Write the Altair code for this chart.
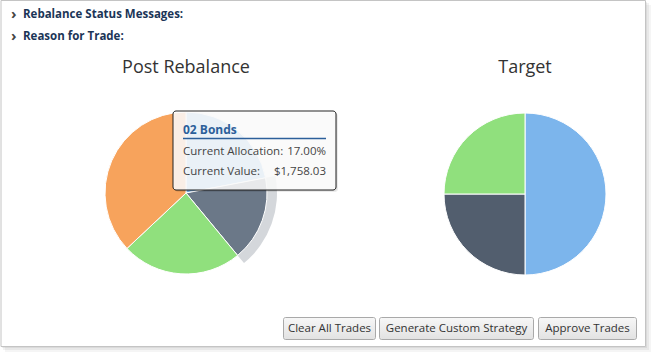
import altair as alt
import pandas as pd

# ---- data ----
categories = ["01 Equities", "02 Bonds", "03 Alternatives", "04 Cash"]
post_values = [22.0, 17.0, 24.0, 37.0]
target_categories = ["01 Equities", "02 Bonds", "03 Alternatives"]
target_values = [50.0, 25.0, 25.0]
hovered = "02 Bonds"
tooltip_allocation = "17.00%"
tooltip_value = "$1,758.03"
header_lines = ["Rebalance Status Messages:", "Reason for Trade:"]
button_labels = ["Clear All Trades", "Generate Custom Strategy", "Approve Trades"]
titles = ["Post Rebalance", "Target"]

post_df = pd.DataFrame({"name": categories, "value": post_values, "idx": range(len(categories))})
target_df = pd.DataFrame({"name": target_categories, "value": target_values, "idx": range(len(target_categories))})

FONT = "Open Sans"
one = pd.DataFrame({"a": [0]})


def rect(x, x2, y, y2, **kw):
    return alt.Chart(one).mark_rect(**kw).encode(
        x=alt.value(x), x2=alt.value(x2), y=alt.value(y), y2=alt.value(y2))


def text(t, x, y, **kw):
    base = dict(font=FONT, fontSize=12, color="#333333", baseline="middle", align="left")
    base.update(kw)
    return alt.Chart(pd.DataFrame({"t": [t]})).mark_text(**base).encode(
        x=alt.value(x), y=alt.value(y), text="t:N")


def hline(x, x2, y, color, w):
    return alt.Chart(one).mark_rule(color=color, strokeWidth=w).encode(
        x=alt.value(x), x2=alt.value(x2), y=alt.value(y))


layers = []
# panel shadow + panel
layers.append(rect(5, 651, 5, 352, fill="#000000", opacity=0.04))
layers.append(rect(3, 649, 3, 350, fill="#000000", opacity=0.05))
layers.append(rect(2, 647, 2, 348, fill="#000000", opacity=0.06))
layers.append(rect(1, 645.5, 0.5, 346.5, fill="#ffffff", stroke="#c4c4c4", strokeWidth=1))

# header lines
for i, t in enumerate(header_lines):
    yy = 15 + 22 * i
    layers.append(text("›", 11, yy - 1, fontSize=15, fontWeight="bold", color="#444444"))
    layers.append(text(t, 23, yy, fontWeight="bold", color="#1b3557", fontSize=11.5))

# titles
layers.append(text(titles[0], 186, 68, fontSize=18, align="center", color="#333333"))
layers.append(text(titles[1], 525, 68, fontSize=18, align="center", color="#333333"))

# post rebalance pie
post_colors = ["#7cb5ec", "#6b7888", "#90e07d", "#f7a35c"]
post_pie = alt.Chart(post_df).mark_arc(radius=81, stroke="#ffffff", strokeWidth=1).encode(
    theta=alt.Theta("value:Q", stack=True),
    order=alt.Order("idx:O"),
    color=alt.Color("name:N", scale=alt.Scale(domain=categories, range=post_colors), legend=None),
    x=alt.value(186), y=alt.value(193),
)
halo = alt.Chart(post_df).mark_arc(radius=91, radius2=81, strokeWidth=0, fill="#525e6e").encode(
    theta=alt.Theta("value:Q", stack=True),
    order=alt.Order("idx:O"),
    opacity=alt.condition(alt.datum.name == hovered, alt.value(0.25), alt.value(0.0)),
    x=alt.value(186), y=alt.value(193),
)
layers.append(halo)
layers.append(post_pie)

# target pie
target_colors = ["#7cb5ec", "#525e6e", "#90e07d"]
target_pie = alt.Chart(target_df).mark_arc(radius=81, stroke="#ffffff", strokeWidth=1).encode(
    theta=alt.Theta("value:Q", stack=True),
    order=alt.Order("idx:O"),
    fill=alt.Fill("name:N", scale=alt.Scale(domain=target_categories, range=target_colors), legend=None),
    x=alt.value(525), y=alt.value(194),
)
layers.append(target_pie)

# tooltip
layers.append(rect(175, 338, 113, 192, fill="#000000", opacity=0.08, cornerRadius=3))
layers.append(rect(174, 337, 112, 191, fill="#000000", opacity=0.08, cornerRadius=3))
layers.append(rect(173, 336, 111, 190, fill="#ffffff", fillOpacity=0.86, stroke="#222222", strokeWidth=1, cornerRadius=3))
layers.append(text(hovered, 183, 130, fontWeight="bold", color="#2c5f9a", fontSize=12))
layers.append(hline(183, 326, 138.5, "#2c5f9a", 1.5))
layers.append(text("Current Allocation:", 183, 152, color="#444444", fontSize=11.5))
layers.append(text(tooltip_allocation, 326, 152, align="right", color="#444444", fontSize=11.5))
layers.append(text("Current Value:", 183, 172, color="#444444", fontSize=11.5))
layers.append(text(tooltip_value, 326, 172, align="right", color="#444444", fontSize=11.5))

# buttons
grad = alt.Gradient(gradient="linear", x1=0, y1=0, x2=0, y2=1,
                    stops=[alt.GradientStop(color="#f7f7f7", offset=0),
                           alt.GradientStop(color="#e2e2e2", offset=1)])
buttons = [(283.5, 375.5), (379.5, 533.5), (538.5, 636.5)]
for (bx, bx2), lab in zip(buttons, button_labels):
    layers.append(rect(bx, bx2, 317.5, 339.5, fill=grad, stroke="#a9a9a9", strokeWidth=1, cornerRadius=2))
    layers.append(text(lab, (bx + bx2) / 2, 328.5, align="center", color="#333333", fontSize=11.5))

chart = alt.layer(*layers).resolve_scale(color="independent", fill="independent").properties(
    width=656, height=357, padding=0, autosize="none"
).configure_view(stroke=None)

chart.save("out.html", embed_options={"renderer": "svg", "actions": False})
